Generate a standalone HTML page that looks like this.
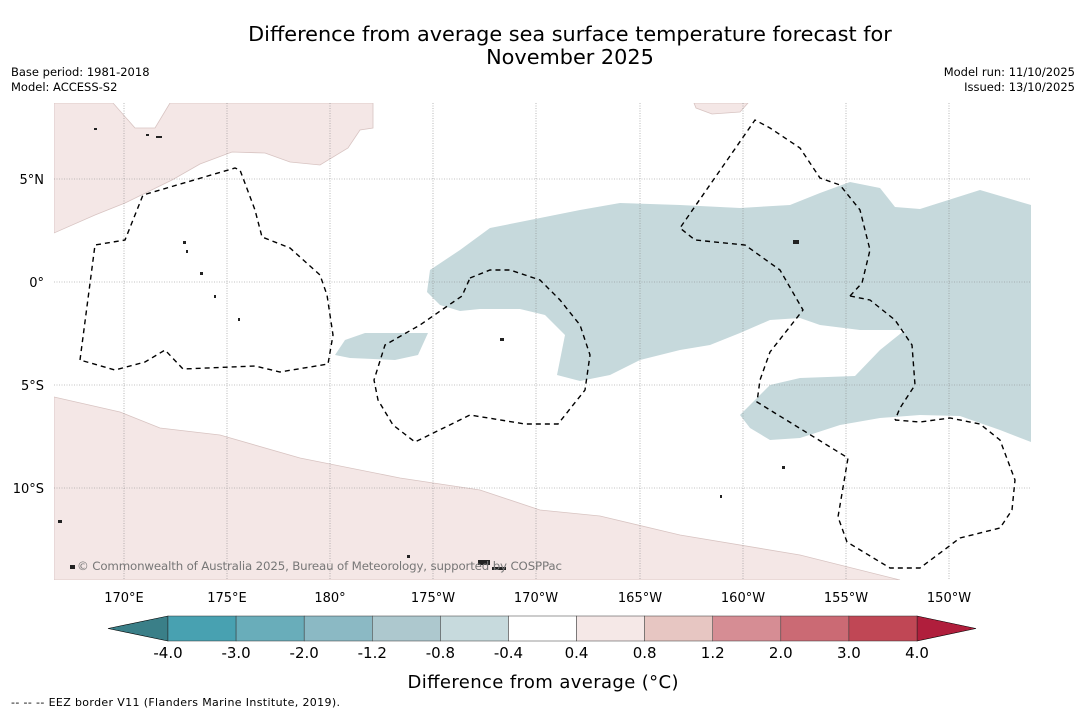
<!DOCTYPE html>
<html><head><meta charset="utf-8"><style>
body{margin:0;background:#fff;font-family:"Liberation Sans","DejaVu Sans",sans-serif}
svg text{font-family:"DejaVu Sans","Liberation Sans",sans-serif}
</style></head><body>
<svg width="1085" height="713" viewBox="0 0 1085 713">
<text x="570" y="41" font-size="20.8" text-anchor="middle">Difference from average sea surface temperature forecast for</text>
<text x="570" y="64" font-size="20.8" text-anchor="middle">November 2025</text>
<text x="11" y="76" font-size="11.5">Base period: 1981-2018</text>
<text x="11" y="91" font-size="11.5">Model: ACCESS-S2</text>
<text x="1075" y="76" font-size="11.5" text-anchor="end">Model run: 11/10/2025</text>
<text x="1075" y="91" font-size="11.5" text-anchor="end">Issued: 13/10/2025</text>
<defs><clipPath id="mc"><rect x="54" y="103" width="977" height="477"/></clipPath></defs>
<g clip-path="url(#mc)">
<polygon fill="#f4e7e6" stroke="#d8c4c2" stroke-width="0.8" points="54,103 113,103 135,128 155,128 170,103 373,103 373,128 360,130 348,148 320,165 290,162 265,153 232,152 200,164 172,180 125,203 95,215 54,233"/>
<polygon fill="#f4e7e6" stroke="#d8c4c2" stroke-width="0.8" points="694,103 748,103 740,112 712,114 696,108"/>
<polygon fill="#f4e7e6" stroke="#d8c4c2" stroke-width="0.8" points="54,397 120,412 160,428 220,435 300,458 400,478 480,490 540,510 600,516 680,535 800,555 900,580 54,580"/>
<polygon fill="#c6d9dc" points="430,270 460,250 490,228 540,218 580,210 620,203 680,205 740,208 790,205 820,193 850,182 880,188 895,207 920,209 980,190 1031,205 1031,442 1000,430 960,416 920,415 880,418 840,425 800,438 770,440 750,428 740,415 770,385 800,378 855,376 880,350 905,330 860,330 820,325 800,318 770,320 740,333 710,345 680,350 640,360 610,375 580,381 557,375 565,335 545,315 520,309 480,309 460,311 440,305 427,292"/>
<polygon fill="#c6d9dc" points="335,355 345,340 365,333 428,333 418,355 395,360 350,358"/>
<g stroke="#888" stroke-width="0.6" stroke-dasharray="1,1.5">
<line x1="124" y1="103" x2="124" y2="580"/><line x1="227" y1="103" x2="227" y2="580"/><line x1="330" y1="103" x2="330" y2="580"/><line x1="433" y1="103" x2="433" y2="580"/><line x1="536" y1="103" x2="536" y2="580"/><line x1="640" y1="103" x2="640" y2="580"/><line x1="743" y1="103" x2="743" y2="580"/><line x1="846" y1="103" x2="846" y2="580"/><line x1="949" y1="103" x2="949" y2="580"/>
<line x1="54" y1="179" x2="1031" y2="179"/><line x1="54" y1="282" x2="1031" y2="282"/><line x1="54" y1="385" x2="1031" y2="385"/><line x1="54" y1="488" x2="1031" y2="488"/>
</g>
<g fill="none" stroke="#000" stroke-width="1.4" stroke-dasharray="5,4">
<polyline points="80,360 95,245 125,240 143,195 235,168 240,170 255,210 262,237 290,248 320,275 327,295 333,335 328,364 280,372 255,366 183,369 165,350 145,362 115,370 80,360"/>
<polyline points="470,278 490,270 510,270 540,280 560,300 580,325 590,355 585,390 558,424 525,424 470,415 415,442 393,425 378,400 374,380 385,345 420,325 462,296 470,278"/>
<polyline points="850,296 862,283 870,250 860,210 840,185 820,178 800,148 770,128 755,120 680,228 695,240 745,245 780,270 803,310 770,352 760,380 757,402 848,458 838,517 847,542 890,568 920,568 960,538 1000,528 1012,510 1015,480 1000,440 980,424 950,418 920,422 895,420"/>
<polyline points="850,296 870,300 895,320 912,345 915,385 900,408 895,420"/>
</g>
<g fill="#222">
<rect x="146" y="134" width="3" height="2"/><rect x="156" y="136" width="6" height="2"/><rect x="94" y="128" width="3" height="2"/><rect x="183" y="241" width="3" height="3"/><rect x="186" y="250" width="2" height="3"/><rect x="200" y="272" width="3" height="3"/><rect x="214" y="295" width="2" height="3"/><rect x="238" y="318" width="2" height="3"/><rect x="500" y="338" width="4" height="3"/><rect x="793" y="240" width="6" height="4"/><rect x="492" y="567" width="14" height="3"/><rect x="478" y="560" width="12" height="5"/><rect x="58" y="520" width="4" height="3"/><rect x="70" y="565" width="5" height="4"/><rect x="782" y="466" width="3" height="3"/><rect x="720" y="495" width="2" height="3"/><rect x="407" y="555" width="3" height="3"/>
</g>
<text x="77" y="570" font-size="11.8" fill="#777" textLength="485">© Commonwealth of Australia 2025, Bureau of Meteorology, supported by COSPPac</text>
</g>
<g font-size="13" text-anchor="middle">
<text x="124" y="602">170°E</text><text x="227" y="602">175°E</text><text x="330" y="602">180°</text><text x="433" y="602">175°W</text><text x="536" y="602">170°W</text><text x="640" y="602">165°W</text><text x="743" y="602">160°W</text><text x="846" y="602">155°W</text><text x="949" y="602">150°W</text>
</g>
<g font-size="13" text-anchor="end">
<text x="44" y="184">5°N</text><text x="44" y="287">0°</text><text x="44" y="390">5°S</text><text x="44" y="493">10°S</text>
</g>
<g id="cbar"></g>
<text x="543" y="688" font-size="18" text-anchor="middle" textLength="271">Difference from average (°C)</text>
<text x="11" y="706" font-size="11" textLength="329">--  --  -- EEZ border V11 (Flanders Marine Institute, 2019).</text>
</svg>
<script>
const tickLabels=["-4.0","-3.0","-2.0","-1.2","-0.8","-0.4","0.4","0.8","1.2","2.0","3.0","4.0"];
const binColors=["#48a1b1","#69adba","#8bb9c4","#adc8ce","#c7dadd","#ffffff","#f5e8e7","#e7c6c2","#d68d94","#cb6a74","#c04755"];
const extColors=["#3a7f88","#b01e3c"];
const NS="http://www.w3.org/2000/svg";
const g=document.getElementById("cbar");
const x0=168,x1=917,y0=616,h=25,w=(x1-x0)/binColors.length;
function mk(t,a){const e=document.createElementNS(NS,t);for(const k in a)e.setAttribute(k,a[k]);g.appendChild(e);return e;}
let L=mk("polygon",{points:`${x0},${y0} 108,${y0+h/2} ${x0},${y0+h}`,fill:extColors[0],stroke:"#000","stroke-width":0.6});


let R=mk("polygon",{points:`${x1},${y0} 976,${y0+h/2} ${x1},${y0+h}`,fill:extColors[1],stroke:"#000","stroke-width":0.6});


binColors.forEach((c,i)=>{const r=mk("rect",{x:x0+i*w,y:y0,width:w,height:h,fill:c,stroke:"#333","stroke-width":0.5});

});
tickLabels.forEach((t,i)=>{const e=mk("text",{x:x0+i*w,y:658,"font-size":15,"text-anchor":"middle"});e.textContent=t;

});
</script>
</body></html>
